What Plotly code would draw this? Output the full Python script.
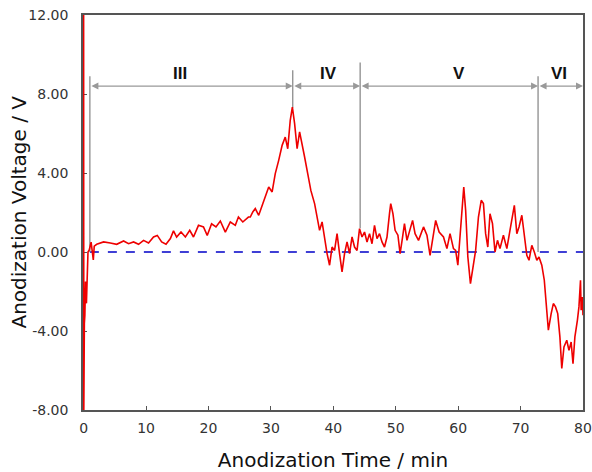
import plotly.graph_objects as go

# Anodization voltage trace
time_min = [0.0, 0.03, 0.12, 0.2, 0.3, 0.45, 0.55, 0.7, 0.9, 1.2, 1.55, 1.7, 2.1, 3.2, 4.27, 5.3, 6.4, 7.2, 8.0,
            8.8, 9.6, 10.4, 11.2, 11.8, 12.5, 13.2, 13.9, 14.4, 14.9, 15.6, 16.3, 17.0, 17.6, 18.4, 19.2,
            19.8, 20.5, 21.2, 21.9, 22.7, 23.5, 24.3, 24.8, 25.5, 26.4, 26.7, 27.1, 27.5, 28.05, 28.85, 29.65,
            30.2, 30.7, 31.25, 31.8, 32.3, 32.7, 33.1, 33.44, 33.8, 34.2, 34.6, 35.0, 35.4, 35.9, 36.4,
            37.0, 37.4, 37.8, 38.2, 38.6, 39.0, 39.4, 39.8, 40.2, 40.6, 41.0, 41.4, 41.8, 42.2, 42.6,
            43.0, 43.4, 43.8, 44.2, 44.6, 45.0, 45.4, 45.8, 46.2, 46.6, 47.0, 47.4, 47.8, 48.2, 48.6,
            49.0, 49.2, 49.55, 49.9, 50.35, 50.7, 51.1, 51.4, 51.8, 52.2, 52.7, 53.1, 53.65, 54.45, 55.0,
            55.5, 56.05, 56.4, 56.95, 57.65, 58.2, 58.7, 59.25, 59.6, 59.95, 60.3, 60.6, 60.9, 61.2,
            61.55, 61.97, 62.45, 62.8, 63.25, 63.7, 64.05, 64.4, 64.75, 65.1, 65.5, 65.9, 66.3, 66.7,
            67.25, 67.8, 68.3, 68.7, 69.0, 69.4, 69.75, 70.2, 70.6, 71.0, 71.35, 71.8, 72.2, 72.6,
            72.95, 73.4, 73.8, 74.1, 74.45, 74.9, 75.25, 75.6, 75.95, 76.3, 76.6, 76.95, 77.4, 77.75,
            78.1, 78.4, 78.7, 79.1, 79.35, 79.6, 79.7, 79.9, 80.0]
voltage_v = [12.0, -8.0, -3.6, -3.2, -1.5, -2.6, -0.8, 0.0, 0.1, 0.5, -0.4, 0.3, 0.39, 0.51, 0.46, 0.39, 0.56, 0.42, 0.51,
             0.39, 0.59, 0.46, 0.76, 0.84, 0.51, 0.39, 0.68, 1.07, 0.76, 1.01, 0.76, 1.1, 0.76, 1.35, 1.27,
             0.84, 1.43, 1.27, 1.57, 1.01, 1.52, 1.35, 1.77, 1.52, 1.77, 1.77, 2.03, 2.2, 1.86, 2.62, 3.29,
             3.04, 3.97, 4.64, 5.4, 5.82, 5.23, 6.67, 7.34, 6.5, 5.23, 6.08, 5.49, 4.81, 3.97, 3.12,
             2.45, 1.69, 1.1, 1.52, 0.59, -0.08, -0.67, 0.25, 0.08, 0.93, -0.08, -1.01, -0.08, 0.51, -0.08,
             0.76, 0.25, 0.08, 1.18, 0.76, 1.01, 0.51, 0.93, 0.42, 1.35, 0.68, 0.93, 0.51, 0.25, 0.76,
             1.94, 2.45, 1.94, 1.1, 0.85, -0.08, 0.76, 1.44, 0.59, 1.1, 1.6, 0.93, 0.59, 1.27, 0.85,
             -0.17, 0.93, 1.6, 1.01, 0.76, 0.17, 0.93, 0.17, 0.08, -0.67, 0.85, 2.28, 3.29, 2.11,
             -0.24, -1.6, -0.59, 0.08, 1.77, 2.62, 2.45, 0.93, 0.25, 1.94, 1.44, 0.0, 0.59, 0.17,
             0.85, 0.17, 1.1, 1.94, 2.36, 0.93, 1.27, 1.86, 0.76, -0.17, -0.42, 0.34, 0.0, -0.42,
             -0.25, -0.67, -1.43, -2.61, -3.96, -3.12, -2.61, -2.78, -3.12, -4.3, -5.9, -4.81, -4.47, -4.98,
             -4.56, -5.65, -4.3, -3.46, -2.78, -1.43, -2.95, -2.28, -3.2]

# Stage boundaries and labels
boundary_t = [1.0, 33.5, 44.3, 72.8]
boundary_v_low = [0.0, 7.3, 1.2, 0.0]
boundary_v_high = [8.9, 9.2, 9.6, 8.9]
stage_start = [1.0, 33.5, 44.3, 72.8]
stage_end = [33.5, 44.3, 72.8, 80.0]
stage_labels = ["III", "IV", "V", "VI"]
stage_label_t = [15.5, 39.2, 60.2, 76.2]
arrow_v = 8.4
label_v = 9.05

x_ticks = [0, 10, 20, 30, 40, 50, 60, 70, 80]
y_ticks = [-8, -4, 0, 4, 8, 12]
y_tick_text = ["-8.00", "-4.00", "0.00", "4.00", "8.00", "12.00"]
y_title = "Anodization Voltage / V"
x_title = "Anodization Time / min"

fig = go.Figure()

# zero reference line
fig.add_trace(go.Scatter(x=[1.0, 80.0], y=[0, 0], mode="lines",
                         line=dict(color="#0000c8", width=1.3, dash="dash"),
                         hoverinfo="skip", showlegend=False))

# boundary lines
for t, lo, hi in zip(boundary_t, boundary_v_low, boundary_v_high):
    fig.add_trace(go.Scatter(x=[t, t], y=[lo, hi], mode="lines",
                             line=dict(color="#8c8c8c", width=1.3),
                             hoverinfo="skip", showlegend=False))

fig.add_trace(go.Scatter(x=time_min, y=voltage_v, mode="lines",
                         line=dict(color="#ee0000", width=1.6),
                         showlegend=False))

annotations = []
for s, e in zip(stage_start, stage_end):
    annotations.append(dict(x=e, y=arrow_v, ax=s, ay=arrow_v, xref="x", yref="y",
                            axref="x", ayref="y", text="", showarrow=True,
                            arrowhead=2, arrowside="end+start", arrowsize=1,
                            arrowwidth=1.4, arrowcolor="#999999", standoff=0, startstandoff=0))
for lab, t in zip(stage_labels, stage_label_t):
    annotations.append(dict(x=t, y=label_v, xref="x", yref="y", text="<b>" + lab + "</b>",
                            showarrow=False,
                            font=dict(family="Liberation Sans", size=17, color="#111111")))
# y-axis title placed as a rotated annotation so it sits where the reference puts it
annotations.append(dict(x=0, y=0.5, xref="paper", yref="paper", text=y_title, textangle=-90,
                        showarrow=False, xanchor="center", yanchor="middle", xshift=-65,
                        font=dict(family="DejaVu Sans", size=20, color="#111111")))

fig.update_layout(
    width=592, height=472,
    margin=dict(l=83, r=9, t=15, b=62),
    paper_bgcolor="white", plot_bgcolor="white",
    annotations=annotations,
    font=dict(family="DejaVu Sans", color="#333333"),
)
fig.update_xaxes(range=[-0.1, 80], tickvals=x_ticks, ticks="inside", ticklen=4,
                 tickcolor="#555555", showline=True, linecolor="#555555", linewidth=1.5,
                 mirror=True, showgrid=False, zeroline=False, layer="below traces",
                 automargin=False, ticklabelstandoff=4, ticklabeloverflow="allow",
                 tickfont=dict(size=14, color="#333333"),
                 title=dict(text=x_title, font=dict(size=20, color="#111111"),
                            standoff=18))
fig.update_yaxes(range=[-8, 12], tickvals=y_ticks, ticktext=y_tick_text, ticks="inside",
                 ticklen=4, tickcolor="#555555", showline=True, linecolor="#555555",
                 linewidth=1.5, mirror=True, showgrid=False, zeroline=False, layer="below traces",
                 automargin=False, ticklabelstandoff=10, ticklabeloverflow="allow",
                 tickfont=dict(size=14, color="#333333"))

# remove the browser's default page margin so the 592x472 figure fills the window exactly
fig.write_html("out.html", config={"displayModeBar": False},
               post_script="document.body.style.margin='0';document.body.style.overflow='hidden';")
